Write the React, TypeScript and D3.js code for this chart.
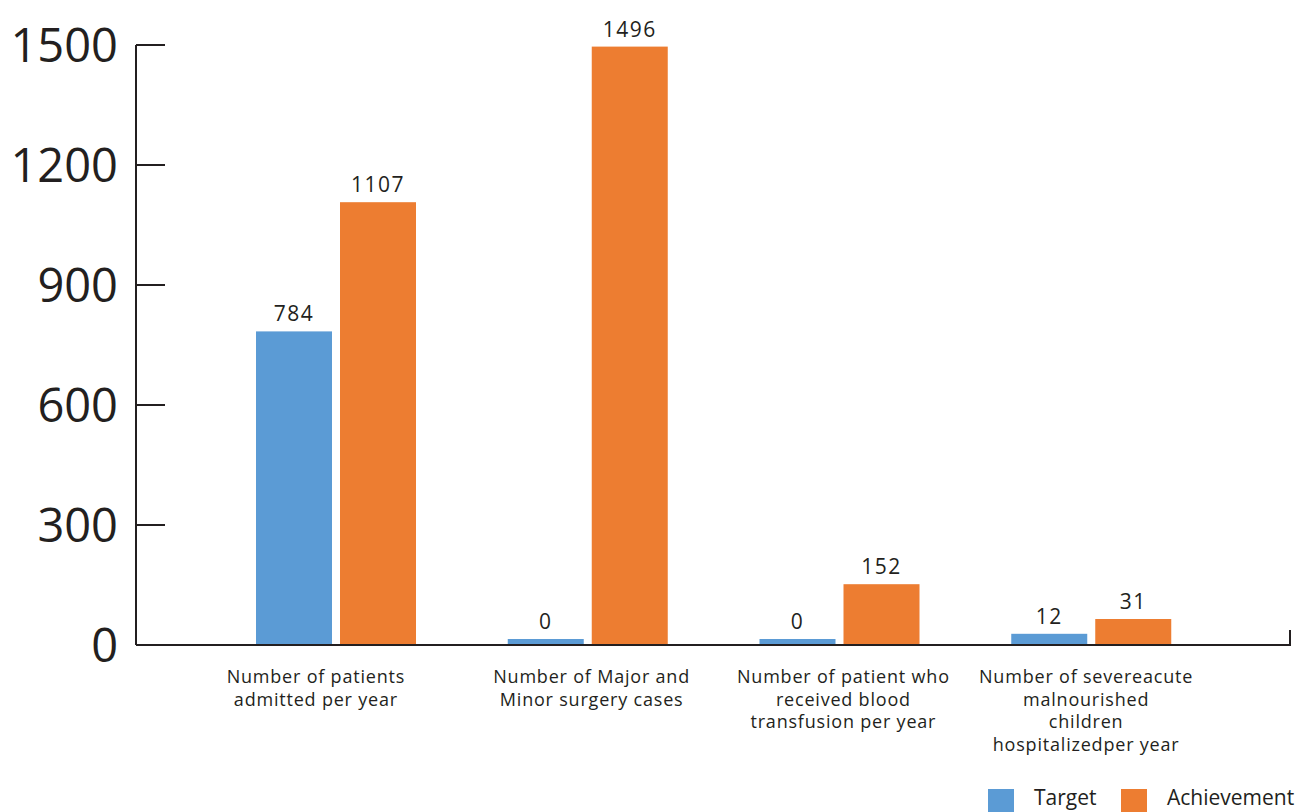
import React from "react";
import * as d3 from "d3";

const categories: string[][] = [
  ["Number of patients", "admitted per year"],
  ["Number of Major and", "Minor surgery cases"],
  ["Number of patient who", "received blood", "transfusion per year"],
  ["Number of severeacute", "malnourished", "children", "hospitalizedper year"],
];
const seriesNames = ["Target", "Achievement"];
// bar heights as drawn in the picture
const targetValues = [784, 15, 15, 28];
const achievementValues = [1107, 1496, 152, 65];
// values printed above the bars
const targetLabels = ["784", "0", "0", "12"];
const achievementLabels = ["1107", "1496", "152", "31"];
const yTicks = [0, 300, 600, 900, 1200, 1500];
const colors = ["#5B9BD5", "#ED7D31"];

const W = 1300;
const H = 812;
const FONT = "'Open Sans', 'Liberation Sans', sans-serif";
const INK = "#231f20";
// layout: horizontal nudge of each category label (px)
const LABEL_SHIFT = [-20, 4, 4, -5];

export default function App() {
  const y = d3.scaleLinear().domain([0, 1500]).range([645, 45]);
  const x0 = d3
    .scaleBand<number>()
    .domain(categories.map((_, i) => i))
    .range([210, 1217])
    .paddingInner(0)
    .paddingOuter(0);
  const x1 = d3
    .scaleBand<number>()
    .domain([0, 1])
    .range([46, 206])
    .paddingInner(8 / 84);

  const series = [
    { vals: targetValues, labels: targetLabels },
    { vals: achievementValues, labels: achievementLabels },
  ];

  return (
    <svg
      width={W}
      height={H}
      style={{ position: "absolute", left: 0, top: 0, background: "#fff" }}
      fontFamily={FONT}
    >
      {/* y axis */}
      <line x1={136} x2={136} y1={y(1500)} y2={y(0)} stroke={INK} strokeWidth={2} />
      {yTicks.map((t) => (
        <g key={t}>
          <line x1={136} x2={165} y1={y(t)} y2={y(t)} stroke={INK} strokeWidth={2} />
          <text
            x={118}
            y={y(t) + 17}
            textAnchor="end"
            fontSize={47}
            fill={INK}
          >
            {t}
          </text>
        </g>
      ))}
      {/* bars */}
      {categories.map((_, ci) => (
        <g key={ci} transform={`translate(${x0(ci)},0)`}>
          {series.map((s, si) => {
            const v = s.vals[ci];
            const bx = x1(si)!;
            const bw = x1.bandwidth();
            return (
              <g key={si}>
                <rect
                  x={bx}
                  y={y(v)}
                  width={bw}
                  height={y(0) - y(v)}
                  fill={colors[si]}
                />
                <text
                  x={bx + bw / 2}
                  y={y(v) - 10}
                  textAnchor="middle"
                  fontSize={21}
                  letterSpacing={1.5}
                  fill={INK}
                >
                  {s.labels[ci]}
                </text>
              </g>
            );
          })}
        </g>
      ))}
      {/* x axis */}
      <line x1={136} x2={1291} y1={y(0)} y2={y(0)} stroke={INK} strokeWidth={2} />
      <line x1={1290} x2={1290} y1={y(0) - 15} y2={y(0)} stroke={INK} strokeWidth={2} />
      {/* category labels */}
      {categories.map((lines, ci) => {
        const cx = x0(ci)! + x0.bandwidth() / 2 + LABEL_SHIFT[ci];
        return (
          <text
            key={ci}
            x={cx}
            y={683}
            textAnchor="middle"
            fontSize={18}
            letterSpacing={0.8}
            fill={INK}
          >
            {lines.map((l, li) => (
              <tspan key={li} x={cx} dy={li === 0 ? 0 : 22.7}>
                {l}
              </tspan>
            ))}
          </text>
        );
      })}
      {/* legend */}
      {seriesNames.map((n, i) => {
        const lx = [988, 1121][i];
        return (
          <g key={n}>
            <rect x={lx} y={789} width={26} height={23} fill={colors[i]} />
            <text x={lx + 46} y={805} fontSize={21} fill={INK}>
              {n}
            </text>
          </g>
        );
      })}
    </svg>
  );
}
